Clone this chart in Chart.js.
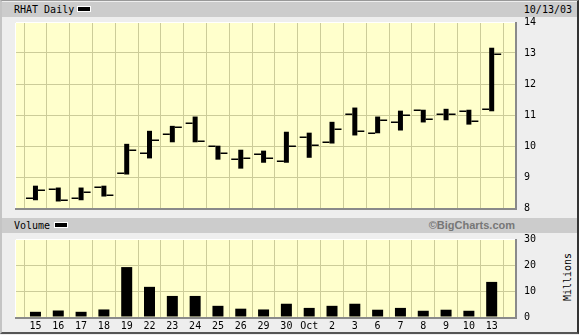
<!DOCTYPE html>
<html><head><meta charset="utf-8">
<script src="https://cdn.jsdelivr.net/npm/chart.js@4.4.1/dist/chart.umd.min.js"></script>
<style>
html,body{margin:0;padding:0;background:#eeeeee;width:579px;height:335px;overflow:hidden;font-family:"DejaVu Sans Mono",monospace;}
#frame{position:absolute;left:0;top:0;width:579px;height:334px;box-sizing:border-box;border-top:1px solid #999;border-left:2px solid #c4c4c4;border-right:2px solid #333;border-bottom:2px solid #555;}
.hdr{position:absolute;left:2px;width:575px;height:15px;background:#cccccc;}
.txt{position:absolute;font-size:10px;line-height:15px;color:#000;white-space:nowrap;}
.sw{position:absolute;width:12px;height:4px;background:#000;border:1px solid #fff;}
#bc{position:absolute;right:64px;top:218px;font-family:"Liberation Sans",Arial,sans-serif;font-weight:bold;font-size:11px;line-height:15px;color:#777;}
#mil{position:absolute;left:567px;top:277px;font-size:10px;transform:translate(-50%,-50%) rotate(-90deg);white-space:nowrap;}
canvas{position:absolute;left:0;}
</style></head>
<body>
<div id="frame"></div>
<div class="hdr" style="top:2px"></div>
<div class="txt" style="left:14px;top:2px">RHAT Daily</div>
<div class="sw" style="left:77px;top:6px"></div>
<div class="txt" style="right:7px;top:2px">10/13/03</div>
<div class="hdr" style="top:218px"></div>
<div class="txt" style="left:14px;top:218px">Volume</div>
<div class="sw" style="left:54px;top:222px"></div>
<div id="bc">©BigCharts.com</div>
<div id="mil">Millions</div>
<canvas id="c1" width="579" height="215" style="top:0"></canvas>
<canvas id="c2" width="579" height="120" style="top:215px"></canvas>
<script>
const labels = ['15','16','17','18','19','22','23','24','25','26','29','30','Oct','2','3','6','7','8','9','10','13'];
const openP  = [8.32, 8.61, 8.32, 8.69, 9.14, 9.78, 10.39, 10.74, 10.00, 9.58, 9.75, 9.52, 10.29, 10.12, 11.02, 10.42, 10.77, 11.16, 11.03, 11.14, 11.19];
const highP  = [8.72, 8.66, 8.66, 8.72, 10.07, 10.49, 10.65, 10.95, 10.01, 9.88, 9.85, 10.46, 10.43, 10.78, 11.24, 10.95, 11.14, 11.17, 11.20, 11.17, 13.17];
const lowP   = [8.25, 8.21, 8.25, 8.37, 9.08, 9.60, 10.12, 10.12, 9.56, 9.27, 9.46, 9.46, 9.62, 10.08, 10.34, 10.41, 10.50, 10.76, 10.83, 10.69, 11.12];
const closeP = [8.59, 8.27, 8.53, 8.42, 9.87, 10.19, 10.61, 10.16, 9.77, 9.61, 9.61, 10.00, 10.04, 10.55, 10.48, 10.84, 11.00, 10.87, 11.03, 10.81, 12.97];
const volume = [2.0, 2.5, 2.0, 2.9, 19.2, 11.6, 8.1, 8.1, 4.3, 3.2, 2.9, 5.1, 3.5, 4.3, 5.1, 2.8, 3.5, 2.4, 2.8, 2.4, 13.5];
const priceTicks = [8, 9, 10, 11, 12, 13, 14];
const volTicks = [0, 10, 20, 30];

const GRID = '#cccc99';
const FILL = '#ffffcc';
const MONO = {family: 'DejaVu Sans Mono', size: 10};

const plotFrame = {
  id: 'plotFrame',
  beforeDraw(chart) {
    const {ctx, chartArea: a} = chart;
    ctx.save();
    ctx.fillStyle = FILL;
    ctx.fillRect(a.left, a.top, a.right - a.left, a.bottom - a.top);
    ctx.restore();
  },
  afterDraw(chart) {
    const {ctx, chartArea: a} = chart;
    ctx.save();
    ctx.strokeStyle = '#ffffff';
    ctx.lineWidth = 1;
    ctx.beginPath();
    ctx.moveTo(a.left + 0.5, a.bottom); ctx.lineTo(a.left + 0.5, a.top + 0.5); ctx.lineTo(a.right, a.top + 0.5);
    ctx.stroke();
    ctx.strokeStyle = '#8a8a8a';
    ctx.lineWidth = 2;
    ctx.beginPath();
    ctx.moveTo(a.left, a.bottom + 1); ctx.lineTo(a.right + 1, a.bottom + 1); ctx.lineTo(a.right + 1, a.top);
    ctx.stroke();
    ctx.restore();
  }
};

const ohlcTicks = {
  id: 'ohlcTicks',
  afterDatasetsDraw(chart) {
    const {ctx} = chart;
    const xs = chart.scales.x, ys = chart.scales.y;
    ctx.save();
    ctx.strokeStyle = '#000';
    ctx.lineWidth = 1.5;
    ctx.beginPath();
    for (let i = 0; i < labels.length; i++) {
      const x = xs.getPixelForValue(i);
      const yo = Math.round(ys.getPixelForValue(openP[i])) + 0.25;
      const yc = Math.round(ys.getPixelForValue(closeP[i])) + 0.25;
      ctx.moveTo(x - 2.5 - 7, yo); ctx.lineTo(x - 2.5, yo);
      ctx.moveTo(x + 2.5, yc); ctx.lineTo(x + 2.5 + 7, yc);
    }
    ctx.stroke();
    ctx.restore();
  }
};

const idxTicks = s => { s.ticks = labels.map((_, i) => ({value: i})); };

function xScale(showLabels) {
  return {
    type: 'linear', min: -0.375, max: 20.5,
    afterBuildTicks: idxTicks,
    grid: {color: GRID, lineWidth: 1, drawTicks: false},
    border: {display: false},
    ticks: {display: showLabels, autoSkip: false, maxRotation: 0, padding: 3,
      color: '#000', font: MONO, callback: v => labels[v] ?? ''},
    afterFit: s => { s.height = showLabels ? 18 : 0; s.paddingLeft = 0; s.paddingRight = 0; }
  };
}

function yScale(min, max, vals) {
  return {
    position: 'right', min, max,
    afterBuildTicks: s => { s.ticks = vals.map(v => ({value: v})); },
    grid: {color: GRID, lineWidth: 1, drawTicks: false},
    border: {display: false},
    ticks: {padding: 9, color: '#000', font: MONO},
    afterFit: s => { s.width = 64; s.paddingTop = 0; s.paddingBottom = 0; }
  };
}

new Chart(document.getElementById('c1'), {
  type: 'bar',
  data: {
    datasets: [{
      data: labels.map((_, i) => ({x: i, y: [lowP[i], highP[i]]})),
      backgroundColor: '#000', borderWidth: 0, barThickness: 5, inflateAmount: 0
    }]
  },
  options: {
    responsive: false, animation: false, devicePixelRatio: 1,
    layout: {padding: {left: 15, top: 22, right: 0, bottom: 7}},
    plugins: {legend: {display: false}, tooltip: {enabled: false}},
    scales: {x: xScale(false), y: yScale(8, 14, priceTicks)}
  },
  plugins: [plotFrame, ohlcTicks]
});

new Chart(document.getElementById('c2'), {
  type: 'bar',
  data: {
    datasets: [{
      data: labels.map((_, i) => ({x: i, y: volume[i]})),
      backgroundColor: '#000', borderWidth: 0, barThickness: 11, inflateAmount: 0
    }]
  },
  options: {
    responsive: false, animation: false, devicePixelRatio: 1,
    layout: {padding: {left: 15, top: 24, right: 0, bottom: 0}},
    plugins: {legend: {display: false}, tooltip: {enabled: false}},
    scales: {x: xScale(true), y: yScale(0, 30, volTicks)}
  },
  plugins: [plotFrame]
});
</script>
</body></html>
